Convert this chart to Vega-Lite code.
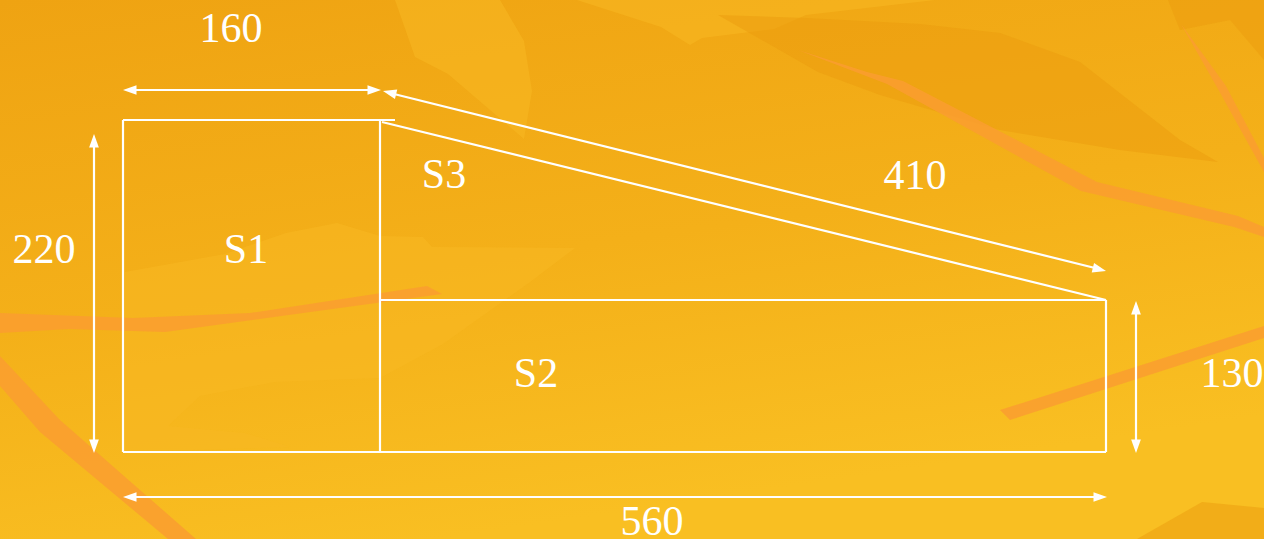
{
  "$schema": "https://vega.github.io/schema/vega-lite/v6.json",
  "width": 1264,
  "height": 539,
  "autosize": {"type": "none"},
  "padding": 0,
  "background": "#F3AC18",
  "config": {"view": {"stroke": null}, "axis": {"disable": true}},
  "datasets": {
    "bg": [{"x": 0, "x2": 1264, "y": 0, "y2": 539}],
    "light": [
      {"s": "a", "o": 1, "x": 395, "y": 0}, {"s": "a", "o": 2, "x": 415, "y": 57}, {"s": "a", "o": 3, "x": 448, "y": 74}, {"s": "a", "o": 4, "x": 524, "y": 139}, {"s": "a", "o": 5, "x": 532, "y": 91}, {"s": "a", "o": 6, "x": 524, "y": 41}, {"s": "a", "o": 7, "x": 500, "y": 0},
      {"s": "b", "o": 1, "x": 577, "y": 0}, {"s": "b", "o": 2, "x": 661, "y": 27}, {"s": "b", "o": 3, "x": 690, "y": 45}, {"s": "b", "o": 4, "x": 702, "y": 38}, {"s": "b", "o": 5, "x": 774, "y": 29}, {"s": "b", "o": 6, "x": 806, "y": 15}, {"s": "b", "o": 7, "x": 935, "y": 0},
      {"s": "c", "o": 1, "x": 125, "y": 272}, {"s": "c", "o": 2, "x": 225, "y": 254}, {"s": "c", "o": 3, "x": 286, "y": 233}, {"s": "c", "o": 4, "x": 337, "y": 223}, {"s": "c", "o": 5, "x": 380, "y": 236}, {"s": "c", "o": 6, "x": 423, "y": 237}, {"s": "c", "o": 7, "x": 432, "y": 247}, {"s": "c", "o": 8, "x": 575, "y": 248}, {"s": "c", "o": 9, "x": 530, "y": 282}, {"s": "c", "o": 10, "x": 443, "y": 344}, {"s": "c", "o": 11, "x": 380, "y": 378}, {"s": "c", "o": 12, "x": 275, "y": 382}, {"s": "c", "o": 13, "x": 200, "y": 396}, {"s": "c", "o": 14, "x": 168, "y": 426}, {"s": "c", "o": 15, "x": 245, "y": 433}, {"s": "c", "o": 16, "x": 290, "y": 447}, {"s": "c", "o": 17, "x": 125, "y": 452}
    ],
    "dark": [
      {"s": "a", "o": 1, "x": 718, "y": 15}, {"s": "a", "o": 2, "x": 806, "y": 18}, {"s": "a", "o": 3, "x": 920, "y": 24}, {"s": "a", "o": 4, "x": 1000, "y": 33}, {"s": "a", "o": 5, "x": 1080, "y": 62}, {"s": "a", "o": 6, "x": 1180, "y": 140}, {"s": "a", "o": 7, "x": 1218, "y": 162}, {"s": "a", "o": 8, "x": 1120, "y": 150}, {"s": "a", "o": 9, "x": 1000, "y": 130}, {"s": "a", "o": 10, "x": 880, "y": 95}, {"s": "a", "o": 11, "x": 818, "y": 72},
      {"s": "b", "o": 1, "x": 1137, "y": 539}, {"s": "b", "o": 2, "x": 1202, "y": 502}, {"s": "b", "o": 3, "x": 1264, "y": 508}, {"s": "b", "o": 4, "x": 1264, "y": 539},
      {"s": "c", "o": 1, "x": 1168, "y": 0}, {"s": "c", "o": 2, "x": 1264, "y": 0}, {"s": "c", "o": 3, "x": 1264, "y": 60}, {"s": "c", "o": 4, "x": 1230, "y": 20}, {"s": "c", "o": 5, "x": 1180, "y": 30}
    ],
    "streak": [
      {"s": "a", "o": 1, "x": 0, "y": 313}, {"s": "a", "o": 2, "x": 133, "y": 318}, {"s": "a", "o": 3, "x": 250, "y": 313}, {"s": "a", "o": 4, "x": 427, "y": 286}, {"s": "a", "o": 5, "x": 442, "y": 294}, {"s": "a", "o": 6, "x": 165, "y": 332}, {"s": "a", "o": 7, "x": 69, "y": 329}, {"s": "a", "o": 8, "x": 0, "y": 333},
      {"s": "b", "o": 1, "x": 0, "y": 356}, {"s": "b", "o": 2, "x": 60, "y": 420}, {"s": "b", "o": 3, "x": 196, "y": 539}, {"s": "b", "o": 4, "x": 168, "y": 539}, {"s": "b", "o": 5, "x": 40, "y": 432}, {"s": "b", "o": 6, "x": 0, "y": 386},
      {"s": "c", "o": 1, "x": 798, "y": 50}, {"s": "c", "o": 2, "x": 867, "y": 72}, {"s": "c", "o": 3, "x": 903, "y": 81}, {"s": "c", "o": 4, "x": 1097, "y": 182}, {"s": "c", "o": 5, "x": 1238, "y": 216}, {"s": "c", "o": 6, "x": 1264, "y": 227}, {"s": "c", "o": 7, "x": 1264, "y": 237}, {"s": "c", "o": 8, "x": 1234, "y": 227}, {"s": "c", "o": 9, "x": 1081, "y": 191}, {"s": "c", "o": 10, "x": 887, "y": 84},
      {"s": "d", "o": 1, "x": 1181, "y": 24}, {"s": "d", "o": 2, "x": 1226, "y": 86}, {"s": "d", "o": 3, "x": 1264, "y": 158}, {"s": "d", "o": 4, "x": 1264, "y": 172}, {"s": "d", "o": 5, "x": 1218, "y": 89},
      {"s": "e", "o": 1, "x": 1000, "y": 410}, {"s": "e", "o": 2, "x": 1264, "y": 326}, {"s": "e", "o": 3, "x": 1264, "y": 338}, {"s": "e", "o": 4, "x": 1010, "y": 420}
    ],
    "segs": [
      {"x1": 123, "y1": 120, "x2": 395, "y2": 120},
      {"x1": 123, "y1": 120, "x2": 123, "y2": 452},
      {"x1": 123, "y1": 452, "x2": 1106, "y2": 452},
      {"x1": 380, "y1": 120, "x2": 380, "y2": 452},
      {"x1": 380, "y1": 300, "x2": 1106, "y2": 300},
      {"x1": 1106, "y1": 300, "x2": 1106, "y2": 452},
      {"x1": 382, "y1": 122, "x2": 1106, "y2": 300},
      {"x1": 130, "y1": 90, "x2": 374, "y2": 90},
      {"x1": 390, "y1": 93, "x2": 1099, "y2": 269},
      {"x1": 94, "y1": 142, "x2": 94, "y2": 445},
      {"x1": 1136, "y1": 309, "x2": 1136, "y2": 445},
      {"x1": 130, "y1": 497, "x2": 1099, "y2": 497}
    ],
    "heads": [
      {"x": 123, "y": 90, "a": 180}, {"x": 381, "y": 90, "a": 0},
      {"x": 383, "y": 91, "a": 193.9}, {"x": 1106, "y": 271, "a": 13.9},
      {"x": 94, "y": 134, "a": 270}, {"x": 94, "y": 453, "a": 90},
      {"x": 1136, "y": 301, "a": 270}, {"x": 1136, "y": 453, "a": 90},
      {"x": 123, "y": 497, "a": 180}, {"x": 1107, "y": 497, "a": 0}
    ],
    "labels": [
      {"t": "160", "x": 231, "y": 42},
      {"t": "220", "x": 44, "y": 263},
      {"t": "S1", "x": 246, "y": 263},
      {"t": "S3", "x": 444, "y": 188},
      {"t": "410", "x": 915, "y": 189},
      {"t": "S2", "x": 536, "y": 387},
      {"t": "130", "x": 1232, "y": 387},
      {"t": "560", "x": 652, "y": 535}
    ]
  },
  "layer": [
    {
      "data": {"name": "bg"},
      "mark": {"type": "rect", "fill": {"gradient": "linear", "x1": 0, "y1": 0, "x2": 0.35, "y2": 1, "stops": [{"offset": 0, "color": "#EFA312"}, {"offset": 0.55, "color": "#F4B019"}, {"offset": 1, "color": "#F9BF22"}]}},
      "encoding": {
        "x": {"field": "x", "type": "quantitative", "scale": {"domain": [0, 1264], "nice": false, "zero": false}, "axis": null},
        "x2": {"field": "x2"},
        "y": {"field": "y", "type": "quantitative", "scale": {"domain": [0, 539], "nice": false, "zero": false, "reverse": true}, "axis": null},
        "y2": {"field": "y2"}
      }
    },
    {
      "data": {"name": "light"},
      "mark": {"type": "line", "fill": "#F7B823", "fillOpacity": 0.55, "strokeWidth": 0, "interpolate": "linear-closed"},
      "encoding": {
        "x": {"field": "x", "type": "quantitative"},
        "y": {"field": "y", "type": "quantitative"},
        "detail": {"field": "s"},
        "order": {"field": "o"}
      }
    },
    {
      "data": {"name": "dark"},
      "mark": {"type": "line", "fill": "#EC9C0D", "fillOpacity": 0.5, "strokeWidth": 0, "interpolate": "linear-closed"},
      "encoding": {
        "x": {"field": "x", "type": "quantitative"},
        "y": {"field": "y", "type": "quantitative"},
        "detail": {"field": "s"},
        "order": {"field": "o"}
      }
    },
    {
      "data": {"name": "streak"},
      "mark": {"type": "line", "fill": "#FA9E30", "fillOpacity": 0.85, "strokeWidth": 0, "interpolate": "linear-closed"},
      "encoding": {
        "x": {"field": "x", "type": "quantitative"},
        "y": {"field": "y", "type": "quantitative"},
        "detail": {"field": "s"},
        "order": {"field": "o"}
      }
    },
    {
      "data": {"name": "segs"},
      "mark": {"type": "rule", "color": "#FFFFFF", "strokeWidth": 2.2},
      "encoding": {
        "x": {"field": "x1", "type": "quantitative"},
        "y": {"field": "y1", "type": "quantitative"},
        "x2": {"field": "x2"},
        "y2": {"field": "y2"}
      }
    },
    {
      "data": {"name": "heads"},
      "mark": {"type": "point", "shape": "M0,0 L-1,-0.36 L-1,0.36 Z", "filled": true, "fill": "#FFFFFF", "strokeWidth": 0, "opacity": 1, "size": 729},
      "encoding": {
        "x": {"field": "x", "type": "quantitative"},
        "y": {"field": "y", "type": "quantitative"},
        "angle": {"field": "a", "type": "quantitative", "scale": null}
      }
    },
    {
      "data": {"name": "labels"},
      "mark": {"type": "text", "font": "Liberation Serif", "fontSize": 42, "color": "#FFFFFF", "align": "center", "baseline": "alphabetic"},
      "encoding": {
        "x": {"field": "x", "type": "quantitative"},
        "y": {"field": "y", "type": "quantitative"},
        "text": {"field": "t"}
      }
    }
  ]
}
